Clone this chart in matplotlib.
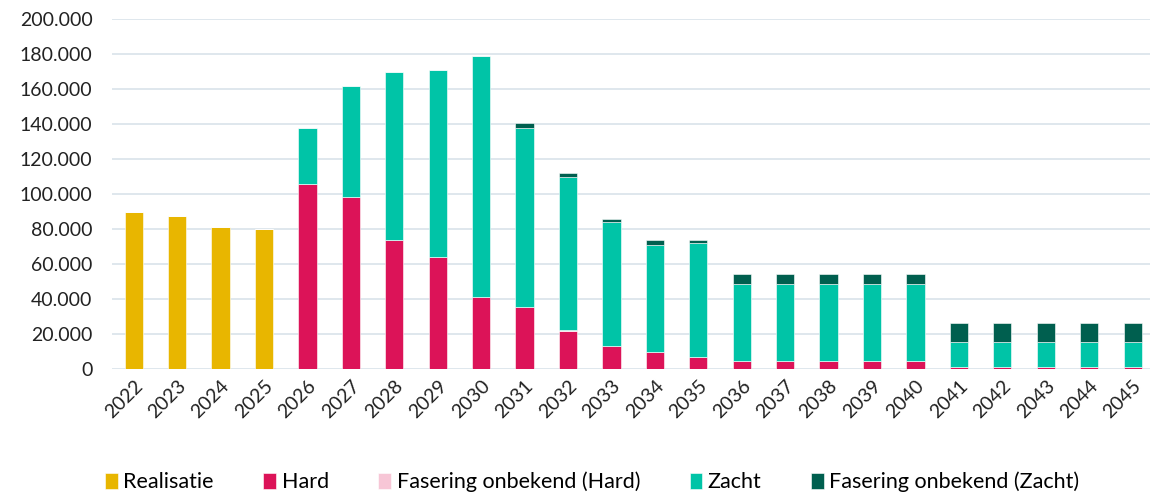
import matplotlib
matplotlib.use("Agg")
import matplotlib.pyplot as plt
import numpy as np

years = [str(y) for y in range(2022, 2046)]
realisatie = [89500, 87200, 81100, 80200] + [0] * 20
hard = [0, 0, 0, 0, 106000, 98500, 74000, 64000, 41000, 35500, 21500, 13000, 9700, 7000,
        4700, 4700, 4700, 4700, 4700, 1000, 1000, 1000, 1000, 1000]
fasering_hard = [0] * 10 + [700] + [0] * 13
zacht = [0, 0, 0, 0, 32000, 63000, 96000, 107000, 138000, 102500, 87500, 71000, 61200, 65200,
         43900, 43900, 43900, 43900, 43900, 14600, 14600, 14600, 14600, 14600]
fasering_zacht = [0] * 9 + [2300, 2300, 1900, 2600, 1300, 5700, 5700, 5700, 5700, 5700,
                            10700, 10700, 10700, 10700, 10700]

series = [
    ("Realisatie", realisatie, "#E8B600"),
    ("Hard", hard, "#DC1358"),
    ("Fasering onbekend (Hard)", fasering_hard, "#F7C6D6"),
    ("Zacht", zacht, "#00C4A7"),
    ("Fasering onbekend (Zacht)", fasering_zacht, "#005F4F"),
]

plt.rcParams['font.family'] = ['Lato', 'DejaVu Sans']

fig = plt.figure(figsize=(11.5, 4.95), dpi=100)
ax = fig.add_axes([0.0974, 0.2545, 0.9026, 0.7071])

x = np.arange(len(years))
bottom = np.zeros(len(years))
handles = []
for name, vals, col in series:
    v = np.array(vals, dtype=float)
    b = ax.bar(x, v, 0.42, bottom=bottom, color=col, edgecolor="white", linewidth=0.4, label=name)
    handles.append(b)
    bottom += v

ax.set_ylim(0, 200000)
ax.set_xlim(-0.5, 23.4)
ax.set_yticks(np.arange(0, 200001, 20000))
ax.set_yticklabels(["0" if t == 0 else f"{t:,}".replace(",", ".") for t in range(0, 200001, 20000)],
                   fontsize=14, color="#222222")
ax.set_xticks(x)
ax.set_xticklabels(years, rotation=45, ha="right", rotation_mode="anchor", fontsize=14, color="#222222")
ax.tick_params(axis="both", length=0)
ax.tick_params(axis="y", pad=14)
ax.tick_params(axis="x", pad=6)
for s in ax.spines.values():
    s.set_visible(False)
ax.grid(axis="y", color="#D9E3EA", linewidth=1.2)
ax.set_axisbelow(True)

leg = fig.legend(handles=handles, loc="center", bbox_to_anchor=(0.515, 0.026), ncol=5,
                 frameon=False, fontsize=15.5, handlelength=0.6, handleheight=0.75,
                 handletextpad=0.25, columnspacing=2.3, borderpad=0)

fig.savefig("out.png", dpi=100)
